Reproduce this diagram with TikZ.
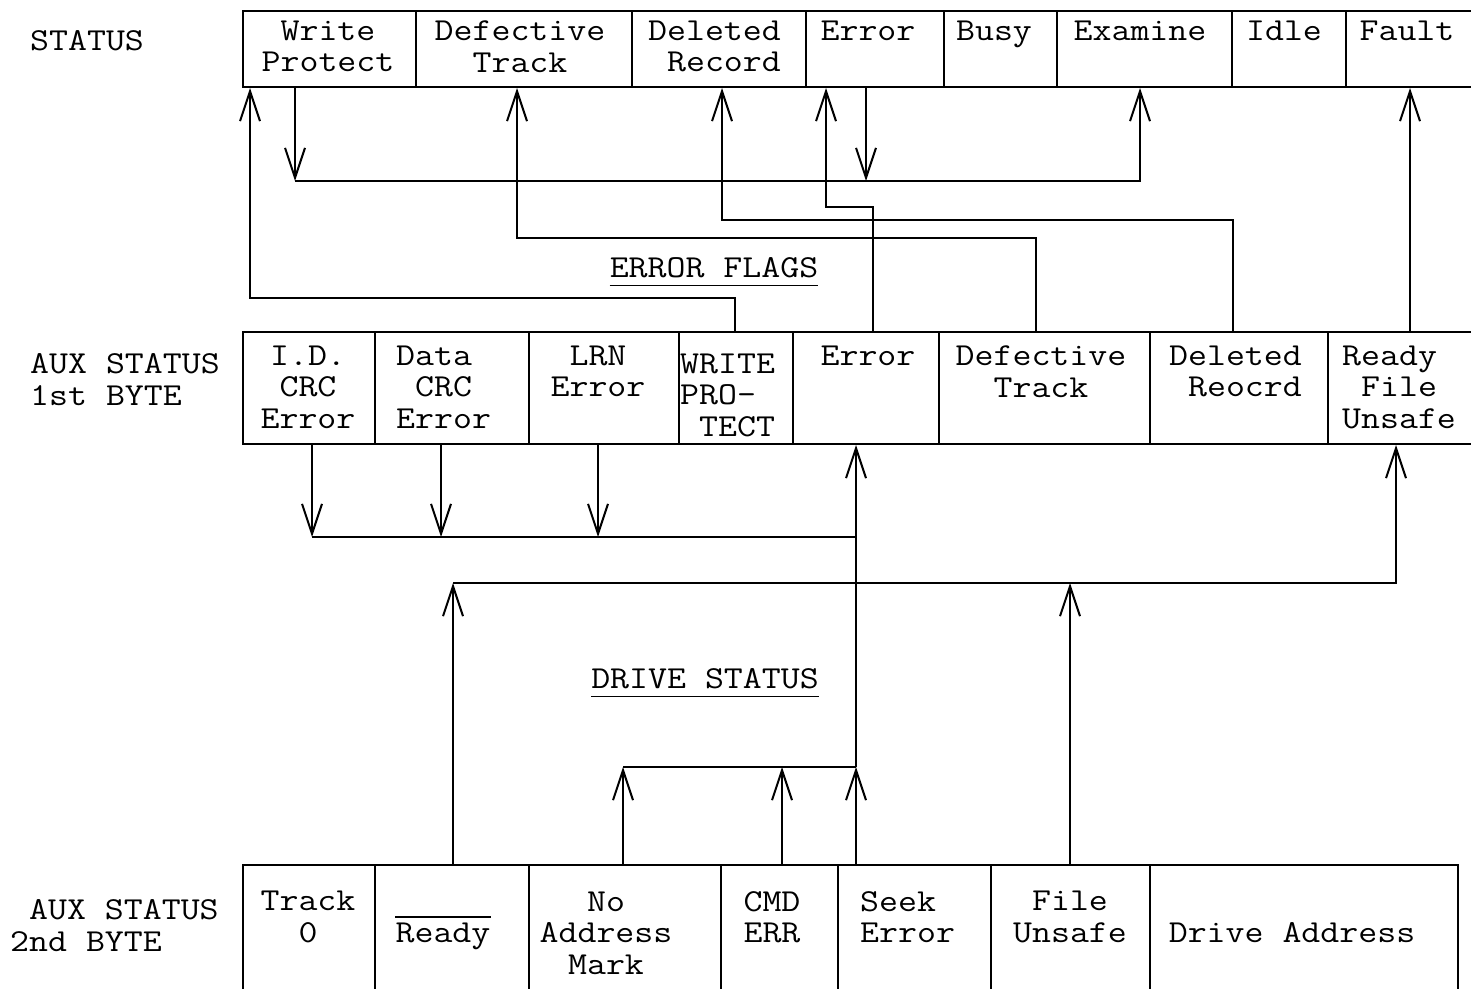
\documentclass[tikz,border=0pt]{standalone}
\usepackage{fontspec}
\setmainfont{Latin Modern Mono}[FakeStretch=1.15]
\usetikzlibrary{arrows.meta}
\begin{document}
\begin{tikzpicture}[x=1pt,y=-1pt,
  cell/.style={draw, line width=2pt, inner sep=0pt, anchor=north west},
  txt/.style={inner sep=0pt, font=\fontsize{32pt}{31.5pt}\selectfont, align=center},
  arr/.style={line width=2pt, -{Straight Barb[length=30pt,width=20pt]}},
  wire/.style={line width=2pt},
  uline/.style={line width=1.6pt}]
\useasboundingbox (0,0) rectangle (1471,988);

% ---------- STATUS row ----------
\node[cell, minimum width=173pt, minimum height=76pt] (sWP) at (242,10) {};
\node[cell, minimum width=216pt, minimum height=76pt] (sDT) at (415,10) {};
\node[cell, minimum width=174pt, minimum height=76pt] (sDR) at (631,10) {};
\node[cell, minimum width=138pt, minimum height=76pt] (sER) at (805,10) {};
\node[cell, minimum width=113pt, minimum height=76pt] (sBU) at (943,10) {};
\node[cell, minimum width=175pt, minimum height=76pt] (sEX) at (1056,10) {};
\node[cell, minimum width=114pt, minimum height=76pt] (sID) at (1231,10) {};
\node[cell, minimum width=140pt, minimum height=76pt] (sFA) at (1345,10) {};

\node[txt] (tsWP) at (328,46.5) {Write\\Protect};
\node[txt] (tsDT) at (520,46.5) {Defective\\Track};
\node[txt, align=right, anchor=east] (tsDR) at (781,46.5) {Deleted\\Record};
\node[txt, anchor=base] (tsER) at (868,40) {Error};
\node[txt, anchor=base] (tsBU) at (994,40) {Busy};
\node[txt, anchor=base] (tsEX) at (1140,40) {Examine};
\node[txt, anchor=base] (tsID) at (1284,40) {Idle};
\node[txt, anchor=base] (tsFA) at (1407,40) {Fault};

% ---------- AUX STATUS 1st BYTE row ----------
\node[cell, minimum width=132pt, minimum height=112pt] (aID) at (242,331) {};
\node[cell, minimum width=154pt, minimum height=112pt] (aDC) at (374,331) {};
\node[cell, minimum width=150pt, minimum height=112pt] (aLRN) at (528,331) {};
\node[cell, minimum width=114pt, minimum height=112pt] (aWP) at (678,331) {};
\node[cell, minimum width=146pt, minimum height=112pt] (aER) at (792,331) {};
\node[cell, minimum width=211pt, minimum height=112pt] (aDT) at (938,331) {};
\node[cell, minimum width=178pt, minimum height=112pt] (aDR) at (1149,331) {};
\node[cell, minimum width=160pt, minimum height=112pt] (aRF) at (1327,331) {};

\node[txt] (taID) at (308,387) {I.D.\\CRC\\Error};
\node[txt, align=left, anchor=west] (taDC) at (396,387) {Data\\\hphantom{C}CRC\\Error};
\node[txt] (taLRN) at (598,371.5) {LRN\\Error};
\node[txt, align=left, anchor=west] (taWP) at (680,395) {WRITE\\PRO-\\\hphantom{T}TECT};
\node[txt, anchor=base] (taER) at (868,365) {Error};
\node[txt] (taDT) at (1041,371.5) {Defective\\Track};
\node[txt, align=right, anchor=east] (taDR) at (1302,371.5) {Deleted\\Reocrd};
\node[txt, align=left, anchor=west] (taRF) at (1342,387) {Ready\\\hphantom{F}File\\Unsafe};

% ---------- AUX STATUS 2nd BYTE row ----------
\node[cell, minimum width=132pt, minimum height=140pt] (bT0) at (242,864) {};
\node[cell, minimum width=154pt, minimum height=140pt] (bRD) at (374,864) {};
\node[cell, minimum width=192pt, minimum height=140pt] (bNA) at (528,864) {};
\node[cell, minimum width=117pt, minimum height=140pt] (bCM) at (720,864) {};
\node[cell, minimum width=153pt, minimum height=140pt] (bSE) at (837,864) {};
\node[cell, minimum width=159pt, minimum height=140pt] (bFU) at (990,864) {};
\node[cell, minimum width=308pt, minimum height=140pt] (bDA) at (1149,864) {};

\node[txt] (tbT0) at (308,917) {Track\\0};
\node[txt, anchor=base] (tbRD) at (443,942) {Ready};
\draw[uline] ([yshift=5pt]tbRD.north west) -- ([yshift=5pt]tbRD.north east);
\node[txt] (tbNA) at (606,933) {No\\Address\\Mark};
\node[txt] (tbCM) at (772,917) {CMD\\ERR};
\node[txt, align=left, anchor=west] (tbSE) at (860,917) {Seek\\Error};
\node[txt] (tbFU) at (1070,917) {File\\Unsafe};
\node[txt, anchor=base] (tbDA) at (1292,942) {Drive Address};

% ---------- row labels ----------
\node[txt, anchor=base west] (lS) at (30,50) {STATUS};
\node[txt, align=left, anchor=west] (l1) at (30,379.5) {AUX STATUS\\1st BYTE};
\node[txt, align=left, anchor=west] (l2) at (10,925.5) {\hphantom{2}AUX STATUS\\2nd BYTE};

% ---------- section titles ----------
\node[txt, anchor=base] (ef) at (714,277) {ERROR FLAGS};
\draw[uline] ([yshift=-8pt]ef.south west) -- ([yshift=-8pt]ef.south east);
\node[txt, anchor=base] (ds) at (705,688) {DRIVE STATUS};
\draw[uline] ([yshift=-8pt]ds.south west) -- ([yshift=-8pt]ds.south east);

% ---------- bus coordinates ----------
\coordinate (cA1) at (295,181);
\coordinate (cA2) at (866,181);
\coordinate (cA3) at (1140,181);
\coordinate (cB1) at (735,298);
\coordinate (cB2) at (250,298);
\coordinate (cC1) at (1036,238);
\coordinate (cC2) at (517,238);
\coordinate (cD1) at (1233,220);
\coordinate (cD2) at (722,220);
\coordinate (cE1) at (873,207);
\coordinate (cE2) at (826,207);
\coordinate (cF) at (1410,200);
\coordinate (cG1) at (312,537);
\coordinate (cG2) at (441,537);
\coordinate (cG3) at (598,537);
\coordinate (cG4) at (856,537);
\coordinate (cH1) at (623,767);
\coordinate (cH2) at (782,767);
\coordinate (cH3) at (856,767);
\coordinate (cJ1) at (453,583);
\coordinate (cJ2) at (1070,583);
\coordinate (cJ3) at (1396,583);

% ---------- connectors (upper) ----------
\draw[arr] (sWP.south -| cA1) -- (cA1);
\draw[arr] (sER.south -| cA2) -- (cA2);
\draw[arr] (cA1) -- (cA3) -- (sEX.south -| cA3);
\draw[arr] (aWP.north -| cB1) -- (cB1) -- (cB2) -- (sWP.south -| cB2);
\draw[arr] (aDT.north -| cC1) -- (cC1) -- (cC2) -- (sDT.south -| cC2);
\draw[arr] (aDR.north -| cD1) -- (cD1) -- (cD2) -- (sDR.south -| cD2);
\draw[arr] (aER.north -| cE1) -- (cE1) -- (cE2) -- (sER.south -| cE2);
\draw[arr] (aRF.north -| cF) -- (sFA.south -| cF);

% ---------- connectors (lower) ----------
\draw[arr] (aID.south -| cG1) -- (cG1);
\draw[arr] (aDC.south -| cG2) -- (cG2);
\draw[arr] (aLRN.south -| cG3) -- (cG3);
\draw[wire] (cG1) -- (cG4);
\draw[arr] (bSE.north -| cH3) -- (cH3);
\draw[arr] (cH3) -- (aER.south -| cH3);
\draw[arr] (bNA.north -| cH1) -- (cH1);
\draw[arr] (bCM.north -| cH2) -- (cH2);
\draw[wire] (cH1) -- (cH3);
\draw[arr] (bRD.north -| cJ1) -- (cJ1);
\draw[arr] (bFU.north -| cJ2) -- (cJ2);
\draw[arr] (cJ1) -- (cJ3) -- (aRF.south -| cJ3);
\end{tikzpicture}
\end{document}
